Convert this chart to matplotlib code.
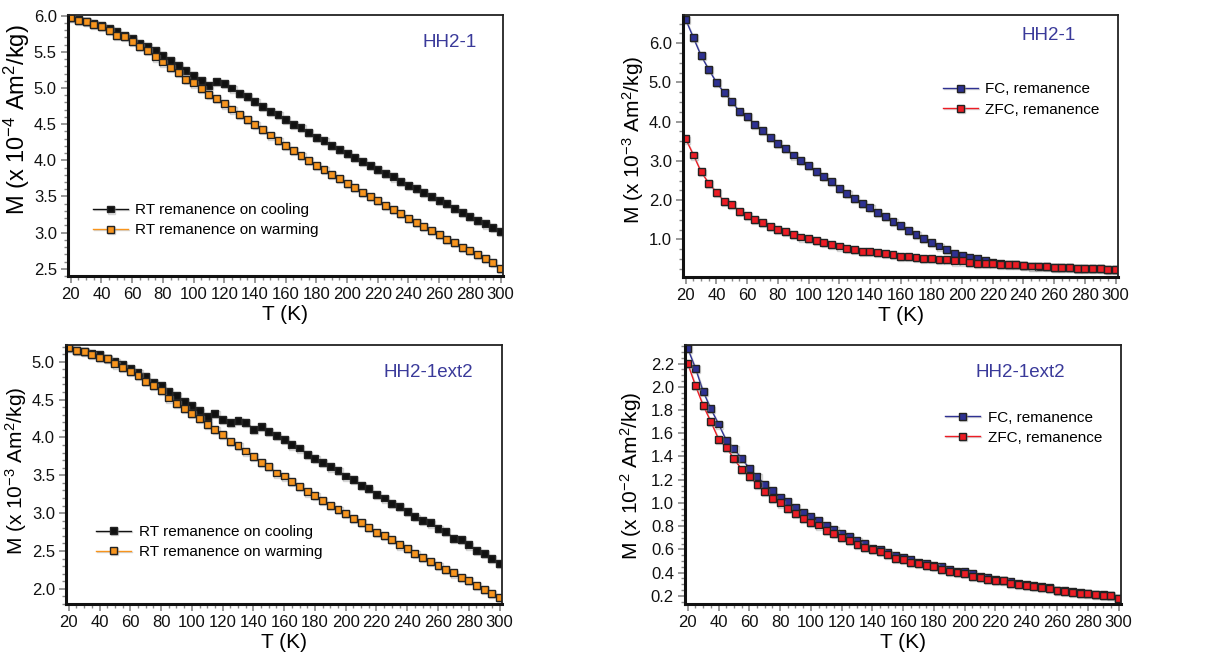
import numpy as np
import matplotlib
matplotlib.use('Agg')
import matplotlib.pyplot as plt
import matplotlib.patheffects as pe
from matplotlib.ticker import MultipleLocator

plt.rcParams['font.family'] = ['Liberation Sans', 'DejaVu Sans']
plt.rcParams['mathtext.fontset'] = 'custom'
plt.rcParams['mathtext.rm'] = 'Liberation Sans'
plt.rcParams['mathtext.it'] = 'Liberation Sans'

# temperatures (K), same for every curve
temps = list(range(20, 301, 5))

# HH2-1, RT remanence (x 10^-4 Am2/kg)
hh21_cooling = [5.97, 5.95, 5.92, 5.89, 5.86, 5.82, 5.78, 5.73, 5.68, 5.62, 5.57, 5.52,
                5.45, 5.38, 5.31, 5.24, 5.17, 5.10, 5.03, 5.09, 5.06, 5.00, 4.93, 4.88,
                4.81, 4.75, 4.68, 4.63, 4.57, 4.50, 4.45, 4.38, 4.32, 4.27, 4.21, 4.15,
                4.10, 4.04, 3.98, 3.93, 3.87, 3.82, 3.77, 3.71, 3.65, 3.61, 3.56, 3.50,
                3.45, 3.40, 3.34, 3.28, 3.22, 3.17, 3.12, 3.07, 3.02]
hh21_warming = [5.97, 5.94, 5.92, 5.88, 5.85, 5.80, 5.73, 5.71, 5.64, 5.57, 5.52, 5.43,
                5.36, 5.29, 5.21, 5.12, 5.07, 4.99, 4.91, 4.85, 4.78, 4.71, 4.64, 4.57,
                4.50, 4.43, 4.35, 4.28, 4.21, 4.14, 4.07, 4.00, 3.93, 3.87, 3.81, 3.75,
                3.68, 3.62, 3.56, 3.50, 3.45, 3.38, 3.32, 3.27, 3.20, 3.14, 3.08, 3.03,
                2.98, 2.91, 2.86, 2.80, 2.75, 2.70, 2.64, 2.59, 2.51]

# HH2-1, FC / ZFC remanence (x 10^-3 Am2/kg)
hh21_fc = [6.60, 6.14, 5.68, 5.33, 5.00, 4.74, 4.52, 4.25, 4.13, 3.93, 3.77, 3.60,
           3.44, 3.31, 3.15, 3.01, 2.88, 2.72, 2.60, 2.47, 2.30, 2.17, 2.04, 1.91,
           1.81, 1.68, 1.58, 1.45, 1.35, 1.23, 1.13, 1.03, 0.91, 0.83, 0.74, 0.64,
           0.60, 0.55, 0.50, 0.45, 0.42, 0.39, 0.37, 0.35, 0.34, 0.32, 0.31, 0.31,
           0.29, 0.29, 0.29, 0.26, 0.26, 0.26, 0.25, 0.24, 0.24]
hh21_zfc = [3.56, 3.15, 2.72, 2.43, 2.20, 1.97, 1.88, 1.72, 1.61, 1.51, 1.42, 1.32,
            1.26, 1.20, 1.13, 1.06, 1.03, 0.97, 0.93, 0.86, 0.83, 0.77, 0.74, 0.70,
            0.70, 0.67, 0.64, 0.61, 0.57, 0.57, 0.54, 0.51, 0.51, 0.48, 0.48, 0.45,
            0.45, 0.42, 0.39, 0.39, 0.39, 0.37, 0.35, 0.35, 0.34, 0.32, 0.32, 0.31,
            0.29, 0.29, 0.29, 0.26, 0.26, 0.26, 0.25, 0.24, 0.23]

# HH2-1ext2, RT remanence (x 10^-3 Am2/kg)
ext2_cooling = [5.19, 5.15, 5.13, 5.11, 5.09, 5.04, 5.00, 4.96, 4.91, 4.86, 4.81, 4.73,
                4.68, 4.61, 4.55, 4.48, 4.42, 4.35, 4.28, 4.32, 4.24, 4.20, 4.22, 4.20,
                4.11, 4.14, 4.08, 4.02, 3.97, 3.90, 3.86, 3.78, 3.72, 3.67, 3.61, 3.56,
                3.49, 3.44, 3.37, 3.32, 3.25, 3.20, 3.13, 3.09, 3.02, 2.95, 2.90, 2.87,
                2.80, 2.76, 2.67, 2.65, 2.58, 2.51, 2.47, 2.40, 2.33]
ext2_warming = [5.19, 5.15, 5.14, 5.10, 5.05, 5.04, 4.97, 4.92, 4.87, 4.82, 4.74, 4.68,
                4.62, 4.52, 4.45, 4.38, 4.32, 4.25, 4.17, 4.11, 4.04, 3.95, 3.89, 3.82,
                3.75, 3.67, 3.62, 3.53, 3.49, 3.42, 3.35, 3.28, 3.23, 3.17, 3.10, 3.05,
                3.00, 2.93, 2.88, 2.81, 2.75, 2.70, 2.65, 2.58, 2.53, 2.47, 2.41, 2.36,
                2.31, 2.26, 2.21, 2.15, 2.11, 2.05, 1.99, 1.94, 1.89]

# HH2-1ext2, FC / ZFC remanence (x 10^-2 Am2/kg)
ext2_fc = [2.33, 2.16, 1.96, 1.81, 1.68, 1.54, 1.47, 1.38, 1.30, 1.23, 1.16, 1.11,
           1.05, 1.01, 0.96, 0.92, 0.88, 0.85, 0.81, 0.77, 0.74, 0.71, 0.68, 0.65,
           0.61, 0.60, 0.57, 0.55, 0.53, 0.51, 0.49, 0.48, 0.46, 0.45, 0.43, 0.41,
           0.41, 0.39, 0.37, 0.36, 0.34, 0.33, 0.32, 0.31, 0.30, 0.29, 0.28, 0.27,
           0.25, 0.25, 0.24, 0.23, 0.22, 0.21, 0.21, 0.20, 0.18]
ext2_zfc = [2.20, 2.01, 1.84, 1.70, 1.55, 1.48, 1.38, 1.29, 1.23, 1.16, 1.10, 1.04,
            1.00, 0.95, 0.91, 0.87, 0.83, 0.81, 0.76, 0.74, 0.70, 0.68, 0.64, 0.62,
            0.60, 0.58, 0.56, 0.52, 0.51, 0.49, 0.48, 0.46, 0.45, 0.43, 0.41, 0.40,
            0.39, 0.37, 0.36, 0.34, 0.33, 0.33, 0.31, 0.30, 0.29, 0.28, 0.27, 0.26,
            0.25, 0.24, 0.23, 0.22, 0.22, 0.21, 0.20, 0.20, 0.18]

BLACK = '#111111'
ORANGE = '#f7941d'
NAVY = '#2e3192'
RED = '#ed1c24'
TITLE_COL = '#3a3a9a'


def style_axes(ax, ylim, ymajor, yminor):
    ax.set_xlim(18.2, 301.6)
    ax.set_ylim(*ylim)
    ax.xaxis.set_major_locator(MultipleLocator(20))
    ax.xaxis.set_minor_locator(MultipleLocator(5))
    ax.yaxis.set_major_locator(MultipleLocator(ymajor))
    ax.yaxis.set_minor_locator(MultipleLocator(yminor))
    ax.yaxis.set_major_formatter(plt.FormatStrFormatter('%.1f'))
    ax.tick_params(which='major', direction='out', length=5, width=1.2,
                   color='#888888', labelsize=12, pad=3, labelcolor='#111111')
    ax.tick_params(which='minor', direction='out', length=3, width=1.0,
                   color='#888888')
    for s in ['left', 'bottom']:
        ax.spines[s].set_linewidth(2.2)
        ax.spines[s].set_color('#111111')
    for s in ['top', 'right']:
        ax.spines[s].set_linewidth(1.3)
        ax.spines[s].set_color('#222222')
    ax.set_xlabel('T (K)', fontsize=15, labelpad=2)


def draw(ax, y, line_col, face_col, label):
    ax.plot(temps, y, '-', color=line_col, lw=1.0, marker='s', markersize=5,
            markerfacecolor=face_col, markeredgecolor='#222222',
            markeredgewidth=1.0, label=label,
            path_effects=[pe.SimpleLineShadow(offset=(0.8, -0.8), shadow_color='#999999',
                                              alpha=0.4), pe.Normal()])


def legend(ax, loc, anchor):
    ax.legend(loc=loc, bbox_to_anchor=anchor, frameon=False, fontsize=11,
              handlelength=2.3, handletextpad=0.5, labelspacing=0.4)


fig = plt.figure(figsize=(12.3, 6.64), dpi=100)

ax1 = fig.add_axes([68 / 1230, 1 - 276 / 664, 435 / 1230, 261 / 664])
draw(ax1, hh21_cooling, BLACK, BLACK, 'RT remanence on cooling')
draw(ax1, hh21_warming, ORANGE, ORANGE, 'RT remanence on warming')
style_axes(ax1, (2.40, 6.01), 0.5, 0.1)
ax1.set_ylabel('M (x 10$^{-4}$ Am$^{2}$/kg)', fontsize=17)
ax1.yaxis.set_label_coords(-0.082, 0.598)
ax1.text(0.877, 0.895, 'HH2-1', transform=ax1.transAxes, color=TITLE_COL,
         fontsize=13.5, ha='center', va='center')
legend(ax1, 'lower left', (0.025, 0.095))

ax2 = fig.add_axes([683 / 1230, 1 - 277 / 664, 435 / 1230, 262 / 664])
draw(ax2, hh21_fc, NAVY, NAVY, 'FC, remanence')
draw(ax2, hh21_zfc, RED, RED, 'ZFC, remanence')
style_axes(ax2, (0.04, 6.72), 1.0, 0.25)
ax2.set_ylabel('M (x 10$^{-3}$ Am$^{2}$/kg)', fontsize=15)
ax2.yaxis.set_label_coords(-0.085, 0.523)
ax2.text(0.84, 0.92, 'HH2-1', transform=ax2.transAxes, color=TITLE_COL,
         fontsize=13.5, ha='center', va='center')
legend(ax2, 'upper left', (0.565, 0.795))

ax3 = fig.add_axes([66 / 1230, 60 / 664, 436 / 1230, 259 / 664])
draw(ax3, ext2_cooling, BLACK, BLACK, 'RT remanence on cooling')
draw(ax3, ext2_warming, ORANGE, ORANGE, 'RT remanence on warming')
style_axes(ax3, (1.80, 5.22), 0.5, 0.1)
ax3.set_ylabel('M (x 10$^{-3}$ Am$^{2}$/kg)', fontsize=15)
ax3.yaxis.set_label_coords(-0.085, 0.513)
ax3.text(0.83, 0.895, 'HH2-1ext2', transform=ax3.transAxes, color=TITLE_COL,
         fontsize=13.5, ha='center', va='center')
legend(ax3, 'lower left', (0.037, 0.12))

ax4 = fig.add_axes([685 / 1230, 60 / 664, 436 / 1230, 259 / 664])
draw(ax4, ext2_fc, NAVY, NAVY, 'FC, remanence')
draw(ax4, ext2_zfc, RED, RED, 'ZFC, remanence')
style_axes(ax4, (0.13, 2.36), 0.2, 0.05)
ax4.set_ylabel('M (x 10$^{-2}$ Am$^{2}$/kg)', fontsize=15)
ax4.yaxis.set_label_coords(-0.095, 0.494)
ax4.text(0.77, 0.895, 'HH2-1ext2', transform=ax4.transAxes, color=TITLE_COL,
         fontsize=13.5, ha='center', va='center')
legend(ax4, 'upper left', (0.565, 0.80))

plt.savefig('out.png', dpi=100)
